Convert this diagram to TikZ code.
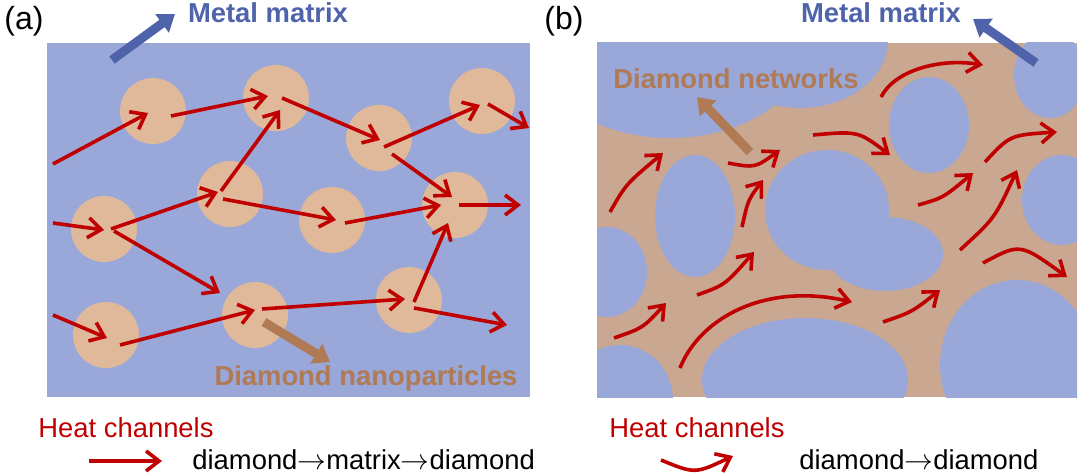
\documentclass[tikz,border=0pt]{standalone}
\usepackage{fontspec}
\setmainfont{Liberation Sans}
\usetikzlibrary{arrows.meta}
\definecolor{matrixblue}{RGB}{153,167,217}
\definecolor{particle}{RGB}{224,185,155}
\definecolor{network}{RGB}{201,167,145}
\definecolor{heatred}{RGB}{192,0,0}
\definecolor{labelblue}{RGB}{79,99,170}
\definecolor{labelbrown}{RGB}{176,122,84}
\newcommand{\tto}{$\rightarrow$}
\tikzset{
  dot/.style={circle,fill=particle,minimum size=33pt,inner sep=0pt},
  heat/.style={heatred,line width=1.8pt,-{Straight Barb[length=6.5pt,width=10pt]}},
  fat/.style={line width=4.5pt,-{Triangle[length=8pt,width=11pt]}},
  caption/.style={inner sep=0pt,anchor=base,font=\fontsize{13.7}{16}\selectfont\bfseries},
  plain/.style={inner sep=0pt,anchor=base west,font=\fontsize{13.7}{16}\selectfont},
}

\begin{document}
\begin{tikzpicture}[x=0.5pt,y=-0.5pt]
\useasboundingbox (0,0) rectangle (1080,475);

% (a) nanoparticles in matrix
\fill[matrixblue] (47,43) rectangle (530,397);
\node[dot] (c1) at (153,111) {};
\node[dot] (c2) at (276,98) {};
\node[dot] (c3) at (379,138) {};
\node[dot] (c4) at (482,101) {};
\node[dot] (c5) at (230,194) {};
\node[dot] (c6) at (332,220) {};
\node[dot] (c7) at (455,205) {};
\node[dot] (c8) at (104,229) {};
\node[dot] (c9) at (255,315) {};
\node[dot] (c10) at (409,300) {};
\node[dot] (c11) at (106,335) {};
\coordinate (a1s) at (53,164);
\coordinate (a5e) at (529,128);
\coordinate (a10e) at (521,205);
\coordinate (a11s) at (53,223);
\coordinate (a15s) at (53,315);
\coordinate (a18e) at (507,325);
\draw[heat] (a1s) -- ([shift={(-5,2)}]c1.center);
\draw[heat] ([shift={(18,5)}]c1.center) -- ([shift={(-8,-2)}]c2.center);
\draw[heat] ([shift={(6,0)}]c2.center) -- ([shift={(1,2)}]c3.center);
\draw[heat] ([shift={(5,9)}]c3.center) -- ([shift={(-2,4)}]c4.center);
\draw[heat] ([shift={(6,3)}]c4.center) -- (a5e);
\draw[heat] ([shift={(-9,-3)}]c5.center) -- ([shift={(4,12)}]c2.center);
\draw[heat] ([shift={(13,16)}]c3.center) -- ([shift={(-3,-8)}]c7.center);
\draw[heat] ([shift={(-7,5)}]c5.center) -- ([shift={(4,0)}]c6.center);
\draw[heat] ([shift={(13,3)}]c6.center) -- ([shift={(-14,0)}]c7.center);
\draw[heat] ([shift={(4,0)}]c7.center) -- (a10e);
\draw[heat] (a11s) -- ([shift={(0,1)}]c8.center);
\draw[heat] ([shift={(7,0)}]c8.center) -- ([shift={(-12,-2)}]c5.center);
\draw[heat] ([shift={(5,2)}]c10.center) -- ([shift={(-7,18)}]c7.center);
\draw[heat] ([shift={(10,2)}]c8.center) -- ([shift={(-35,-22)}]c9.center);
\draw[heat] (a15s) -- ([shift={(1,3)}]c11.center);
\draw[heat] ([shift={(14,10)}]c11.center) -- ([shift={(0,-5)}]c9.center);
\draw[heat] ([shift={(7,-6)}]c9.center) -- ([shift={(-4,-1)}]c10.center);
\draw[heat] ([shift={(5,8)}]c10.center) -- (a18e);

\node[plain,font=\fontsize{16}{18}\selectfont] (lbla) at (4,30) {(a)};
\node[caption,labelblue] (mma) at (268,23) {Metal matrix};
\coordinate (mas) at (112,60);
\coordinate (mae) at (175,14);
\draw[fat,labelblue] (mas) -- (mae);
\node[caption,labelbrown] (dnp) at (366,386) {Diamond nanoparticles};
\coordinate (das) at (264,322);
\coordinate (dae) at (330,362);
\draw[fat,labelbrown] (das) -- (dae);
\node[plain,heatred] (hca) at (38,437) {Heat channels};
\coordinate (ka1) at (89,461);
\coordinate (ka2) at (162,461);
\draw[heat] (ka1) -- (ka2);
\node[plain] (pa) at (192,469) {diamond\tto matrix\tto diamond};

% (b) diamond network
\begin{scope}
\clip (597,43) rectangle (1077,397);
\fill[network] (597,43) rectangle (1077,397);
\fill[matrixblue] (670,40) ellipse [x radius=140,y radius=98]
  (800,40) ellipse [x radius=88,y radius=68]
  (1050,75) ellipse [x radius=36,y radius=43]
  (929,125) ellipse [x radius=40,y radius=48]
  (1062,200) ellipse [x radius=40,y radius=45]
  (695,216) ellipse [x radius=40,y radius=61]
  (607,272) ellipse [x radius=40,y radius=45]
  (827,210) ellipse [x radius=62,y radius=60]
  (885,254) ellipse [x radius=58,y radius=37]
  (620,400) ellipse [x radius=53,y radius=55]
  (805,380) ellipse [x radius=103,y radius=62]
  (1017,365) ellipse [x radius=77,y radius=85];
\end{scope}
\draw[heat] (881,97) .. controls (895,70) and (940,58) .. (983,65);
\draw[heat] (610,212) .. controls (626,184) .. (663,153);
\draw[heat] (728,163) .. controls (755,168) .. (780,150);
\draw[heat] (742,227) .. controls (748,200) .. (763,180);
\draw[heat] (813,135) .. controls (858,131) .. (890,155);
\draw[heat] (918,205) .. controls (943,198) .. (973,173);
\draw[heat] (985,162) .. controls (1010,135) .. (1057,132);
\draw[heat] (960,250) .. controls (995,218) .. (1017,170);
\draw[heat] (614,338) .. controls (643,328) .. (666,303);
\draw[heat] (697,295) .. controls (725,285) .. (754,252);
\draw[heat] (680,368) .. controls (700,318) and (765,282) .. (852,302);
\draw[heat] (883,322) .. controls (912,312) .. (940,290);
\draw[heat] (983,263) .. controls (1020,243) .. (1067,277);

\node[plain,font=\fontsize{16}{18}\selectfont] (lblb) at (544,30) {(b)};
\node[caption,labelblue] (mmb) at (881,23) {Metal matrix};
\coordinate (mbs) at (1036,63);
\coordinate (mbe) at (973,19);
\draw[fat,labelblue] (mbs) -- (mbe);
\node[caption,labelbrown] (dnw) at (736,89) {Diamond networks};
\coordinate (dbs) at (750,152);
\coordinate (dbe) at (697,97);
\draw[fat,labelbrown] (dbs) -- (dbe);
\node[plain,heatred] (hcb) at (609,437) {Heat channels};
\coordinate (kb1) at (661,460);
\coordinate (kb2) at (733,456);
\draw[heat] (kb1) .. controls (695,474) .. (kb2);
\node[plain] (pb) at (799,469) {diamond\tto diamond};
\end{tikzpicture}
\end{document}
